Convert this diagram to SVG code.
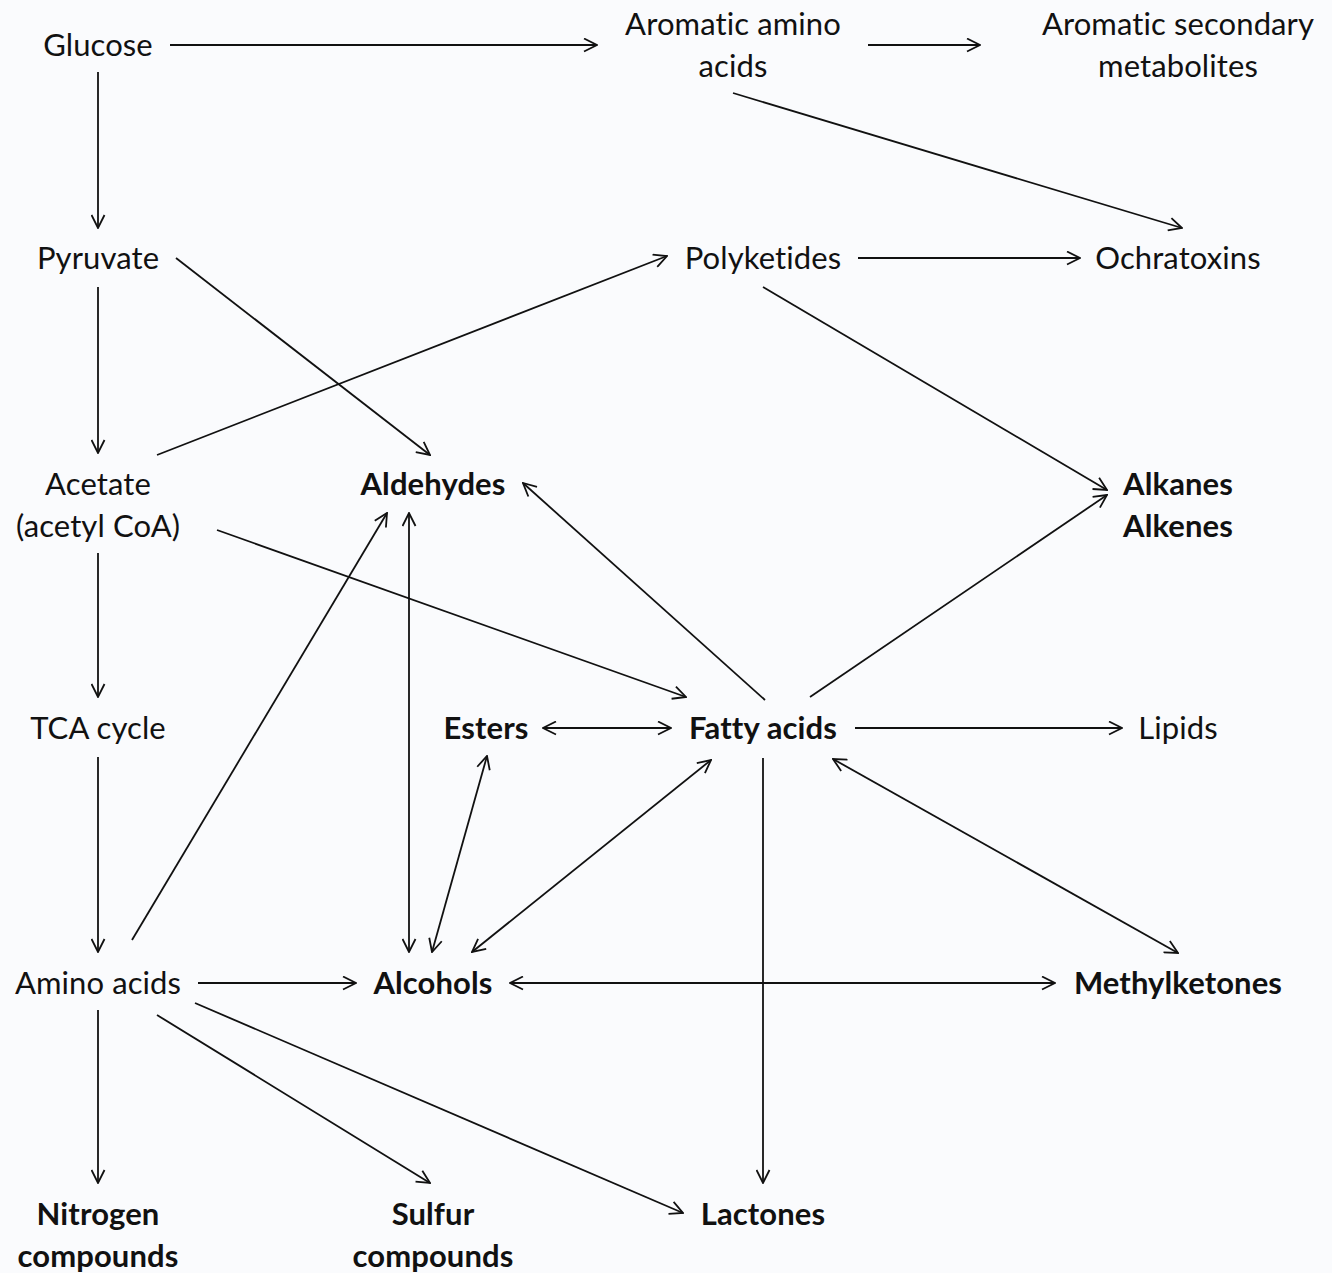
<svg xmlns="http://www.w3.org/2000/svg" width="1332" height="1273" viewBox="0 0 1332 1273">
<style>
text{font-family:Lato,"Open Sans","Liberation Sans",sans-serif;font-size:31px;fill:#111;text-anchor:middle;font-variant-ligatures:none;font-feature-settings:"liga" 0,"clig" 0;letter-spacing:0.1px}
.b{font-weight:bold}
.c line{stroke:#111;stroke-width:1.8;fill:none;marker-end:url(#ah)}
.c line.d{marker-start:url(#ah)}
</style>
<defs>
<marker id="ah" viewBox="0 0 15 15" refX="14" refY="7.5" markerWidth="15" markerHeight="15" markerUnits="userSpaceOnUse" orient="auto-start-reverse">
<path d="M1,1 L14,7.5 L1,14" fill="none" stroke="#111" stroke-width="1.8"/>
</marker>
</defs>
<rect width="1332" height="1273" fill="#fafbfd"/>
<g id="glucose"><text x="98" y="56">Glucose</text></g>
<g id="aromatic-amino-acids"><text x="733" y="35">Aromatic amino</text><text x="733" y="77">acids</text></g>
<g id="aromatic-secondary"><text x="1178" y="35">Aromatic secondary</text><text x="1178" y="77">metabolites</text></g>
<g id="pyruvate"><text x="98" y="269">Pyruvate</text></g>
<g id="polyketides"><text x="763" y="269">Polyketides</text></g>
<g id="ochratoxins"><text x="1178" y="269">Ochratoxins</text></g>
<g id="acetate"><text x="98" y="495">Acetate</text><text x="98" y="537">(acetyl CoA)</text></g>
<g id="aldehydes"><text class="b" x="433" y="495">Aldehydes</text></g>
<g id="alkanes"><text class="b" x="1178" y="495">Alkanes</text><text class="b" x="1178" y="537">Alkenes</text></g>
<g id="tca"><text x="98" y="739">TCA cycle</text></g>
<g id="esters"><text class="b" x="486" y="739">Esters</text></g>
<g id="fatty-acids"><text class="b" x="763" y="739">Fatty acids</text></g>
<g id="lipids"><text x="1178" y="739">Lipids</text></g>
<g id="amino-acids"><text x="98" y="994">Amino acids</text></g>
<g id="alcohols"><text class="b" x="433" y="994">Alcohols</text></g>
<g id="methylketones"><text class="b" x="1178" y="994">Methylketones</text></g>
<g id="nitrogen"><text class="b" x="98" y="1225">Nitrogen</text><text class="b" x="98" y="1267">compounds</text></g>
<g id="sulfur"><text class="b" x="433" y="1225">Sulfur</text><text class="b" x="433" y="1267">compounds</text></g>
<g id="lactones"><text class="b" x="763" y="1225">Lactones</text></g>
<g id="connectors" class="c">
<line x1="170" y1="45" x2="597" y2="45"/>
<line x1="868" y1="45" x2="980" y2="45"/>
<line x1="98" y1="72" x2="98" y2="228"/>
<line x1="733" y1="93" x2="1182" y2="228"/>
<line x1="98" y1="287" x2="98" y2="453"/>
<line x1="176" y1="258" x2="430" y2="455"/>
<line x1="157" y1="455" x2="667" y2="256"/>
<line x1="858" y1="258" x2="1080" y2="258"/>
<line x1="763" y1="287" x2="1107" y2="490"/>
<line x1="217" y1="530" x2="686" y2="697"/>
<line x1="98" y1="553" x2="98" y2="697"/>
<line x1="765" y1="700" x2="523" y2="483"/>
<line x1="810" y1="697" x2="1107" y2="495"/>
<line class="d" x1="409" y1="513" x2="409" y2="952"/>
<line x1="132" y1="940" x2="387" y2="513"/>
<line x1="98" y1="757" x2="98" y2="952"/>
<line class="d" x1="543" y1="728" x2="671" y2="728"/>
<line x1="855" y1="728" x2="1122" y2="728"/>
<line class="d" x1="487" y1="756" x2="432" y2="952"/>
<line class="d" x1="711" y1="760" x2="472" y2="952"/>
<line class="d" x1="833" y1="759" x2="1178" y2="953"/>
<line x1="763" y1="758" x2="763" y2="1183"/>
<line x1="198" y1="983" x2="356" y2="983"/>
<line class="d" x1="510" y1="983" x2="1055" y2="983"/>
<line x1="98" y1="1010" x2="98" y2="1183"/>
<line x1="157" y1="1015" x2="430" y2="1183"/>
<line x1="195" y1="1003" x2="683" y2="1213"/>
</g>
</svg>
